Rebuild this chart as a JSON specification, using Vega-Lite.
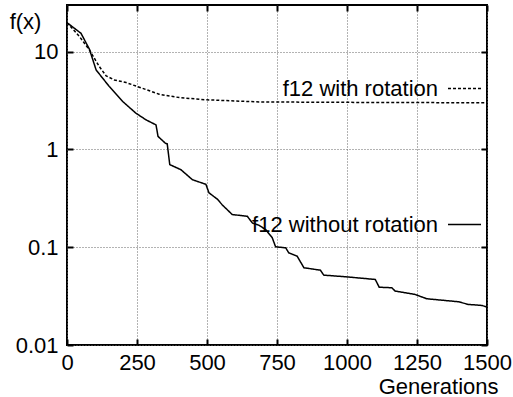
{
  "$schema": "https://vega.github.io/schema/vega-lite/v6.json",
  "autosize": {"type": "none"},
  "padding": {"left": 67, "top": 5, "right": 26, "bottom": 52},
  "width": 420,
  "height": 340,
  "config": {
    "font": "Liberation Sans",
    "view": {"stroke": "black", "strokeWidth": 2},
    "axis": {
      "domain": false,
      "labelFont": "Liberation Sans",
      "labelFontSize": 22,
      "labelColor": "black",
      "labelOverlap": false,
      "labelFlush": false,
      "labelBound": false,
      "titleFont": "Liberation Sans",
      "titleFontSize": 22,
      "titleFontWeight": "normal",
      "titleColor": "black",
      "tickColor": "black",
      "tickWidth": 2,
      "tickSize": -6,
      "gridColor": "#666",
      "gridDash": [1, 2],
      "gridWidth": 1,
      "gridOpacity": 1
    },
    "legend": {
      "labelFont": "Liberation Sans",
      "labelFontSize": 22,
      "labelColor": "black",
      "labelLimit": 400
    }
  },
  "data": {
    "values": [
      {"gen": 0, "f": 19.8, "series": "f12 without rotation"},
      {"gen": 50, "f": 15.4, "series": "f12 without rotation"},
      {"gen": 80, "f": 10.6, "series": "f12 without rotation"},
      {"gen": 104, "f": 6.5, "series": "f12 without rotation"},
      {"gen": 151, "f": 4.4, "series": "f12 without rotation"},
      {"gen": 199, "f": 3.09, "series": "f12 without rotation"},
      {"gen": 246, "f": 2.35, "series": "f12 without rotation"},
      {"gen": 282, "f": 2.01, "series": "f12 without rotation"},
      {"gen": 318, "f": 1.78, "series": "f12 without rotation"},
      {"gen": 325, "f": 1.36, "series": "f12 without rotation"},
      {"gen": 351, "f": 1.16, "series": "f12 without rotation"},
      {"gen": 358, "f": 1.14, "series": "f12 without rotation"},
      {"gen": 367, "f": 0.7, "series": "f12 without rotation"},
      {"gen": 407, "f": 0.62, "series": "f12 without rotation"},
      {"gen": 448, "f": 0.49, "series": "f12 without rotation"},
      {"gen": 496, "f": 0.44, "series": "f12 without rotation"},
      {"gen": 507, "f": 0.36, "series": "f12 without rotation"},
      {"gen": 537, "f": 0.31, "series": "f12 without rotation"},
      {"gen": 555, "f": 0.27, "series": "f12 without rotation"},
      {"gen": 590, "f": 0.216, "series": "f12 without rotation"},
      {"gen": 644, "f": 0.207, "series": "f12 without rotation"},
      {"gen": 662, "f": 0.177, "series": "f12 without rotation"},
      {"gen": 685, "f": 0.168, "series": "f12 without rotation"},
      {"gen": 709, "f": 0.152, "series": "f12 without rotation"},
      {"gen": 733, "f": 0.125, "series": "f12 without rotation"},
      {"gen": 745, "f": 0.101, "series": "f12 without rotation"},
      {"gen": 781, "f": 0.0986, "series": "f12 without rotation"},
      {"gen": 792, "f": 0.0877, "series": "f12 without rotation"},
      {"gen": 822, "f": 0.081, "series": "f12 without rotation"},
      {"gen": 846, "f": 0.0617, "series": "f12 without rotation"},
      {"gen": 905, "f": 0.0582, "series": "f12 without rotation"},
      {"gen": 917, "f": 0.0518, "series": "f12 without rotation"},
      {"gen": 994, "f": 0.0499, "series": "f12 without rotation"},
      {"gen": 1101, "f": 0.0468, "series": "f12 without rotation"},
      {"gen": 1115, "f": 0.039, "series": "f12 without rotation"},
      {"gen": 1160, "f": 0.0385, "series": "f12 without rotation"},
      {"gen": 1172, "f": 0.0356, "series": "f12 without rotation"},
      {"gen": 1243, "f": 0.0329, "series": "f12 without rotation"},
      {"gen": 1285, "f": 0.0297, "series": "f12 without rotation"},
      {"gen": 1398, "f": 0.0277, "series": "f12 without rotation"},
      {"gen": 1433, "f": 0.026, "series": "f12 without rotation"},
      {"gen": 1481, "f": 0.0254, "series": "f12 without rotation"},
      {"gen": 1500, "f": 0.0245, "series": "f12 without rotation"},
      {"gen": 0, "f": 19.8, "series": "f12 with rotation"},
      {"gen": 45, "f": 14.2, "series": "f12 with rotation"},
      {"gen": 80, "f": 10.4, "series": "f12 with rotation"},
      {"gen": 116, "f": 7.0, "series": "f12 with rotation"},
      {"gen": 140, "f": 5.65, "series": "f12 with rotation"},
      {"gen": 169, "f": 5.14, "series": "f12 with rotation"},
      {"gen": 211, "f": 4.83, "series": "f12 with rotation"},
      {"gen": 258, "f": 4.33, "series": "f12 with rotation"},
      {"gen": 329, "f": 3.67, "series": "f12 with rotation"},
      {"gen": 401, "f": 3.39, "series": "f12 with rotation"},
      {"gen": 496, "f": 3.22, "series": "f12 with rotation"},
      {"gen": 686, "f": 3.06, "series": "f12 with rotation"},
      {"gen": 1000, "f": 3.03, "series": "f12 with rotation"},
      {"gen": 1500, "f": 3.0, "series": "f12 with rotation"}
    ]
  },
  "resolve": {"axis": {"x": "independent", "y": "independent"}},
  "layer": [
    {
      "mark": {"type": "line", "color": "black", "strokeWidth": 1.5},
      "encoding": {
        "x": {
          "field": "gen", "type": "quantitative",
          "scale": {"domain": [0, 1500], "nice": false, "zero": false},
          "axis": {
            "orient": "bottom", "values": [0, 250, 500, 750, 1000, 1250, 1500],
            "format": "d", "title": "Generations", "labelPadding": 13,
            "titleAlign": "right", "titleX": 431, "titleY": 48, "titleBaseline": "alphabetic"
          }
        },
        "y": {
          "field": "f", "type": "quantitative",
          "scale": {"type": "log", "domain": [0.01, 30], "nice": false},
          "axis": {
            "orient": "left", "values": [0.01, 0.1, 1, 10], "format": "~g",
            "title": "f(x)", "titleAngle": 0, "titleAlign": "center",
            "titleBaseline": "alphabetic", "titleX": -42, "titleY": 23, "labelPadding": 15
          }
        },
        "strokeDash": {
          "field": "series", "type": "nominal",
          "scale": {"domain": ["f12 with rotation", "f12 without rotation"], "range": [[3, 2], [1, 0]]},
          "legend": {
            "orient": "none", "legendX": 380, "legendY": 66, "title": null,
            "symbolType": "stroke", "symbolSize": 1089, "symbolStrokeWidth": 1.5,
            "symbolStrokeColor": "black", "labelAlign": "right", "labelOffset": -44,
            "rowPadding": 107
          }
        }
      }
    },
    {
      "mark": {"type": "point", "opacity": 0},
      "encoding": {
        "x": {
          "field": "gen", "type": "quantitative",
          "axis": {"orient": "top", "values": [0, 250, 500, 750, 1000, 1250, 1500], "labels": false, "grid": false, "title": null}
        },
        "y": {
          "field": "f", "type": "quantitative",
          "axis": {"orient": "right", "values": [0.01, 0.1, 1, 10], "labels": false, "grid": false, "title": null}
        }
      }
    }
  ]
}
